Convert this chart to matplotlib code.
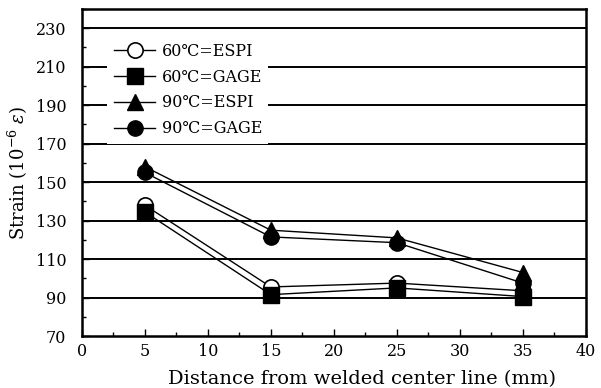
import matplotlib
matplotlib.use("Agg")
import matplotlib.pyplot as plt
from matplotlib.ticker import MultipleLocator

plt.rcParams['font.family'] = ['DejaVu Serif', 'DejaVu Sans']
plt.rcParams['mathtext.fontset'] = 'dejavuserif'

distance = [5, 15, 25, 35]
espi_60 = [138, 95.5, 97.5, 93.5]
gage_60 = [134.5, 91.5, 95, 90.5]
espi_90 = [158, 125, 121, 103]
gage_90 = [155, 121.5, 118.5, 97.5]

series_labels = ['60℃=ESPI', '60℃=GAGE', '90℃=ESPI', '90℃=GAGE']
x_ticks = [0, 5, 10, 15, 20, 25, 30, 35, 40]
y_ticks = [70, 90, 110, 130, 150, 170, 190, 210, 230]

fig = plt.figure(figsize=(6.01, 3.88), dpi=100)
ax = fig.add_axes([0.136, 0.134, 0.839, 0.843])

for y in y_ticks[1:]:
    ax.axhline(y, color='black', lw=1.4, zorder=1)

style = dict(color='black', lw=1.0, markersize=11, zorder=3)
ax.plot(distance, espi_60, marker='o', mfc='white', mec='black', mew=1.2,
        label=series_labels[0], **style)
ax.plot(distance, gage_60, marker='s', mfc='black', mec='black',
        label=series_labels[1], **style)
ax.plot(distance, espi_90, marker='^', mfc='black', mec='black',
        label=series_labels[2], **style)
ax.plot(distance, gage_90, marker='o', mfc='black', mec='black',
        label=series_labels[3], **style)

ax.set_xlim(0, 40)
ax.set_ylim(70, 240)
ax.set_xticks(x_ticks)
ax.set_yticks(y_ticks)
ax.xaxis.set_minor_locator(MultipleLocator(2.5))
ax.yaxis.set_minor_locator(MultipleLocator(10))
ax.tick_params(which='both', direction='in', labelsize=11.5, width=1.0)
ax.tick_params(which='major', length=5)
ax.tick_params(which='minor', length=3)
ax.tick_params(axis='x', pad=5)
ax.tick_params(axis='y', pad=11)
for s in ax.spines.values():
    s.set_linewidth(1.8)

ax.set_xlabel('Distance from welded center line (mm)', fontsize=14, labelpad=4)
ax.xaxis.set_label_coords(0.556, -0.105)
ax.set_ylabel('Strain (10$^{-6}$ $\\varepsilon$)', fontsize=13, labelpad=4)

leg = ax.legend(loc='upper left', bbox_to_anchor=(0.035, 0.94), fontsize=11.5,
                frameon=True, facecolor='white', edgecolor='none', framealpha=1,
                handlelength=2.6, handletextpad=0.4, labelspacing=0.55,
                borderpad=0.4, fancybox=False)
leg.set_zorder(5)

fig.savefig('out.png', dpi=100)
